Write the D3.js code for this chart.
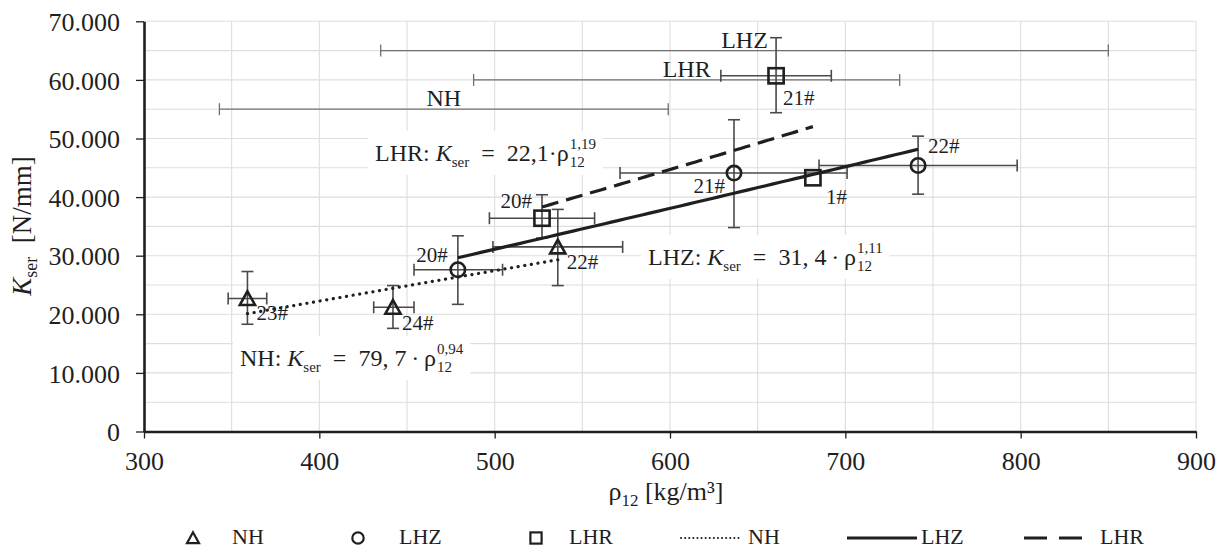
<!DOCTYPE html>
<html>
<head>
<meta charset="utf-8">
<script src="https://cdn.jsdelivr.net/npm/d3@7"></script>
<style>
  html, body { margin: 0; padding: 0; background: #fff; }
  svg, svg text { font-family: "Liberation Serif", "Times New Roman", "DejaVu Serif", serif; }
  svg { display: block; }
</style>
</head>
<body>
<svg id="chart" width="1231" height="549"></svg>
<script>
// ---- Specimen group means with scatter ranges ----
// NH (triangles)
const nhLabels = ["23#", "24#", "22#"];
const nhRho    = [359, 442, 536];
const nhK      = [22700, 21200, 31500];
const nhRhoLo  = [348, 431, 499];
const nhRhoHi  = [370, 454, 573];
const nhKLo    = [18300, 17600, 24900];
const nhKHi    = [27300, 24900, 37900];

// LHZ (circles)
const lhzLabels = ["20#", "21#", "22#"];
const lhzRho    = [479, 636.5, 741.5];
const lhzK      = [27600, 44100, 45400];
const lhzRhoLo  = [454, 571.5, 685];
const lhzRhoHi  = [504.5, 701, 798];
const lhzKLo    = [21700, 34800, 40500];
const lhzKHi    = [33400, 53200, 50400];

// LHR (squares); 1# is a single specimen without scatter
const lhrLabels = ["20#", "1#", "21#"];
const lhrRho    = [527, 681.5, 660.5];
const lhrK      = [36400, 43300, 60700];
const lhrRhoLo  = [497, null, 629];
const lhrRhoHi  = [557, null, 692];
const lhrKLo    = [33000, null, 54400];
const lhrKHi    = [40400, null, 67200];

// Density range of each wood type
const rangeNames = ["LHZ", "LHR", "NH"];
const rangeLo    = [435, 488, 343];
const rangeHi    = [850, 731, 599];
const rangeK     = [65000, 60000, 55000];

// Power-law fits  K_ser = a * rho^b
const fitNames = ["NH", "LHZ", "LHR"];
const fitA     = [79.7, 31.4, 22.1];
const fitB     = [0.94, 1.11, 1.19];
const fitAText = ["79, 7", "31, 4", "22,1"];
const fitBText = ["0,94", "1,11", "1,19"];

// Axis ticks
const xTicks = [300, 400, 500, 600, 700, 800, 900];
const yTicks = [0, 10000, 20000, 30000, 40000, 50000, 60000, 70000];

// ---- Layout ----
const ink = "#1f1f1f";
const serif = "'Liberation Serif', 'Times New Roman', 'DejaVu Serif', serif";
const svg = d3.select("#chart").attr("font-family", serif);
const x = d3.scaleLinear().domain([300, 900]).range([144, 1196]);
const y = d3.scaleLinear().domain([0, 70000]).range([431.5, 21.3]);

function zip(labels, rho, k, rlo, rhi, klo, khi) {
  return labels.map((l, i) => ({ label: l, rho: rho[i], k: k[i],
    rlo: rlo[i], rhi: rhi[i], klo: klo[i], khi: khi[i] }));
}
const series = [
  { name: "NH",  shape: "tri",    pts: zip(nhLabels, nhRho, nhK, nhRhoLo, nhRhoHi, nhKLo, nhKHi) },
  { name: "LHZ", shape: "circle", pts: zip(lhzLabels, lhzRho, lhzK, lhzRhoLo, lhzRhoHi, lhzKLo, lhzKHi) },
  { name: "LHR", shape: "square", pts: zip(lhrLabels, lhrRho, lhrK, lhrRhoLo, lhrRhoHi, lhrKLo, lhrKHi) }
];

// label placement relative to marker: [dx, dy, anchor]
const labelPlace = {
  "NH":  [[9, 22, "start"], [9, 23, "start"], [9, 22, "start"]],
  "LHZ": [[-10, -8, "end"], [-9, 20, "end"], [10, -12, "start"]],
  "LHR": [[-10, -10, "end"], [13, 26, "start"], [7, 29, "start"]]
};

// ---- Grid ----
const grid = svg.append("g");
d3.range(350, 901, 50).forEach(v => {
  grid.append("line").attr("x1", x(v)).attr("x2", x(v))
    .attr("y1", y(0)).attr("y2", y(70000))
    .attr("stroke", "#dedede").attr("stroke-width", 1.1);
});
d3.range(5000, 70001, 5000).forEach(v => {
  grid.append("line").attr("x1", x(300)).attr("x2", x(900))
    .attr("y1", y(v)).attr("y2", y(v))
    .attr("stroke", "#dedede").attr("stroke-width", 1.1);
});

// ---- Fit equations (white boxes over the grid) ----
const eqPos = { "NH": [240, 366], "LHZ": [648, 265], "LHR": [375, 161] };
const eqLayer = svg.append("g");
fitNames.forEach((n, i) => {
  const [ex, ey] = eqPos[n];
  const g = eqLayer.append("g");
  const box = g.append("rect").attr("fill", "#fff");
  const t = g.append("text").attr("x", ex).attr("y", ey)
    .attr("font-size", 24).attr("fill", ink);
  t.append("tspan").text(n + ": ");
  t.append("tspan").attr("font-style", "italic").text("K");
  t.append("tspan").attr("font-size", 15).attr("dy", 6).text("ser");
  const eqMid = n === "LHR" ? "\u2002=\u2002" + fitAText[i] + "\u00B7\u03C1"
                            : "\u2002=\u2002" + fitAText[i] + "\u2009\u00B7\u2009\u03C1";
  t.append("tspan").attr("dy", -6).text(eqMid);
  const end = ex + t.node().getComputedTextLength() + 1;
  g.append("text").attr("x", end).attr("y", ey + 6).attr("font-size", 15)
    .attr("fill", ink).text("12");
  const sup = g.append("text").attr("x", end).attr("y", ey - 12).attr("font-size", 15)
    .attr("fill", ink).text(fitBText[i]);
  const right = end + sup.node().getComputedTextLength();
  box.attr("x", ex - 7).attr("y", ey - 30).attr("width", right - ex + 14).attr("height", 44);
});

// ---- Density ranges ----
const rng = svg.append("g").attr("stroke", "#707070").attr("stroke-width", 1.3);
rangeNames.forEach((n, i) => {
  const yy = y(rangeK[i]);
  rng.append("line").attr("x1", x(rangeLo[i])).attr("x2", x(rangeHi[i])).attr("y1", yy).attr("y2", yy);
  [rangeLo[i], rangeHi[i]].forEach(v => {
    rng.append("line").attr("x1", x(v)).attr("x2", x(v)).attr("y1", yy - 6).attr("y2", yy + 6);
  });
  svg.append("text").attr("font-size", 24).attr("fill", ink)
    .attr("text-anchor", "middle")
    .attr("x", x(d3.mean([rangeLo[i], rangeHi[i]])))
    .attr("y", yy - 3).text(n);
});

// ---- Error bars ----
const err = svg.append("g").attr("stroke", "#4a4a4a").attr("stroke-width", 1.6);
series.forEach(s => s.pts.forEach(p => {
  if (p.rlo == null) return;
  const cx = x(p.rho), cy = y(p.k);
  err.append("line").attr("x1", x(p.rlo)).attr("x2", x(p.rhi)).attr("y1", cy).attr("y2", cy);
  [p.rlo, p.rhi].forEach(v => err.append("line").attr("x1", x(v)).attr("x2", x(v)).attr("y1", cy - 6).attr("y2", cy + 6));
  err.append("line").attr("x1", cx).attr("x2", cx).attr("y1", y(p.klo)).attr("y2", y(p.khi));
  [p.klo, p.khi].forEach(v => err.append("line").attr("x1", cx - 6).attr("x2", cx + 6).attr("y1", y(v)).attr("y2", y(v)));
}));

// ---- Fit curves ----
const dashes = { "NH": "0.1 6.6", "LHZ": null, "LHR": "17 8" };
const line = d3.line().x(d => x(d[0])).y(d => y(d[1]));
fitNames.forEach((n, i) => {
  const s = series.find(q => q.name === n);
  const [lo, hi] = d3.extent(s.pts, p => p.rho);
  const pts = d3.range(0, 61).map(j => {
    const r = lo + (hi - lo) * j / 60;
    return [r, fitA[i] * Math.pow(r, fitB[i])];
  });
  svg.append("path").attr("d", line(pts)).attr("fill", "none")
    .attr("stroke", ink).attr("stroke-width", 3.2)
    .attr("stroke-linecap", n === "NH" ? "round" : "butt")
    .attr("stroke-dasharray", dashes[n]);
});

// ---- Markers ----
function marker(g, shape, cx, cy, r, sw) {
  if (shape === "tri") {
    g.append("path").attr("d", `M${cx},${cy - r * 0.95} L${cx + r},${cy + r * 0.85} L${cx - r},${cy + r * 0.85} Z`)
      .attr("fill", "none").attr("stroke", ink).attr("stroke-width", sw).attr("stroke-linejoin", "miter");
  } else if (shape === "circle") {
    g.append("circle").attr("cx", cx).attr("cy", cy).attr("r", r * 0.95)
      .attr("fill", "none").attr("stroke", ink).attr("stroke-width", sw);
  } else {
    g.append("rect").attr("x", cx - r).attr("y", cy - r).attr("width", 2 * r).attr("height", 2 * r)
      .attr("fill", "none").attr("stroke", ink).attr("stroke-width", sw);
  }
}
const mk = svg.append("g");
series.forEach(s => s.pts.forEach((p, i) => {
  const cx = x(p.rho), cy = y(p.k);
  marker(mk, s.shape, cx, cy, 7.6, 2.6);
  const [dx, dy, anc] = labelPlace[s.name][i];
  svg.append("text").attr("x", cx + dx).attr("y", cy + dy).attr("text-anchor", anc)
    .attr("font-size", 21).attr("fill", ink).text(p.label);
}));

// ---- Axes ----
const fmtK = d => d === 0 ? "0" : d3.format(",")(d).replace(/,/g, ".");
const yAxis = svg.append("g").attr("transform", `translate(${x(300)},0)`)
  .call(d3.axisLeft(y).tickValues(yTicks).tickSize(8).tickSizeOuter(0).tickPadding(16).tickFormat(fmtK));
const xAxis = svg.append("g").attr("transform", `translate(0,${y(0)})`)
  .call(d3.axisBottom(x).tickValues(xTicks).tickSize(7).tickSizeOuter(0).tickPadding(13).tickFormat(d3.format("d")));
[yAxis, xAxis].forEach(a => {
  a.attr("font-family", serif).attr("font-size", 26);
  a.select(".domain").attr("stroke", ink).attr("stroke-width", 2.6);
  a.selectAll(".tick line").attr("stroke", ink).attr("stroke-width", 1.3);
  a.selectAll(".tick text").attr("fill", ink).attr("font-size", 26).attr("font-family", serif);
});
yAxis.selectAll(".tick text").attr("dy", "0.35em");

// Axis titles
const yt = svg.append("text").attr("transform", "translate(31,226) rotate(-90)")
  .attr("text-anchor", "middle").attr("font-size", 27).attr("fill", ink);
yt.append("tspan").attr("font-style", "italic").text("K");
yt.append("tspan").attr("font-size", 18).attr("dy", 6).text("ser");
yt.append("tspan").attr("dy", -6).text("\u2002[N/mm]");

const xt = svg.append("text").attr("x", 666).attr("y", 500)
  .attr("text-anchor", "middle").attr("font-size", 26).attr("fill", ink);
xt.append("tspan").text("\u03C1");
xt.append("tspan").attr("font-size", 17).attr("dy", 6).text("12");
xt.append("tspan").attr("dy", -6).text(" [kg/m\u00B3]");

// ---- Legend ----
const lg = svg.append("g");
const ly = 538;
const legendText = (tx, s) => lg.append("text").attr("x", tx).attr("y", ly + 6).attr("font-size", 22)
  .attr("fill", ink).text(s);
marker(lg, "tri", 193, ly, 6, 2.2);
legendText(232, "NH");
marker(lg, "circle", 358, ly, 6, 2.2);
legendText(399, "LHZ");
marker(lg, "square", 536, ly, 5.6, 2.2);
legendText(569, "LHR");
lg.append("line").attr("x1", 681).attr("x2", 742).attr("y1", ly).attr("y2", ly)
  .attr("stroke", ink).attr("stroke-width", 2).attr("stroke-dasharray", "0.1 4").attr("stroke-linecap", "round");
legendText(748, "NH");
lg.append("line").attr("x1", 847).attr("x2", 917).attr("y1", ly).attr("y2", ly)
  .attr("stroke", ink).attr("stroke-width", 3.2);
legendText(921, "LHZ");
lg.append("line").attr("x1", 1024).attr("x2", 1082).attr("y1", ly).attr("y2", ly)
  .attr("stroke", ink).attr("stroke-width", 3.2).attr("stroke-dasharray", "23 12");
legendText(1100, "LHR");
</script>
</body>
</html>
